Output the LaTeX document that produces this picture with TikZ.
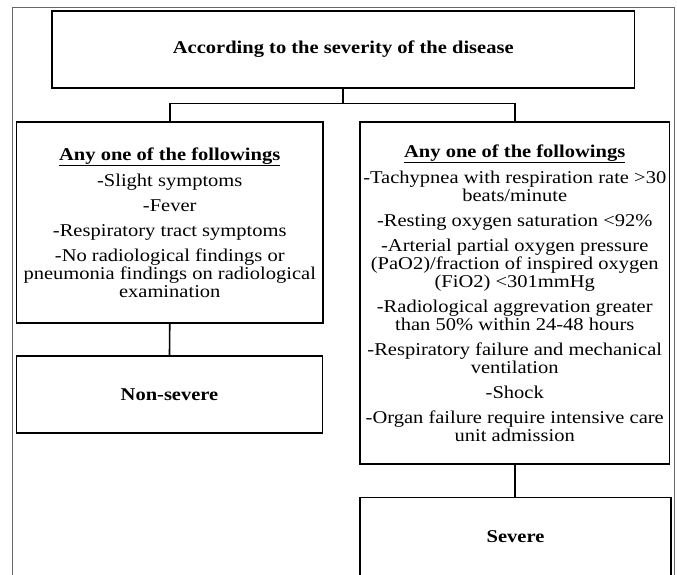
\documentclass[tikz,border=0pt]{standalone}
\usepackage{fontspec}
\setmainfont{Liberation Serif}[FakeStretch=1.14]
\begin{document}
\begin{tikzpicture}[x=1pt,y=-1pt,
  box/.style={draw=black,line width=1.6pt,rectangle,inner sep=0pt,align=center,
    font=\fontsize{18}{18}\selectfont},
  link/.style={draw=black,line width=1.6pt},
  frame/.style={draw=black!60,line width=0.9pt}]
\useasboundingbox (0,0) rectangle (677,574);
\clip (0,0) rectangle (677,574);
\draw[frame] (12.7,590) -- (12.7,7.3) -- (674,7.3) -- (674,590);

\node[box,minimum width=582.5pt,minimum height=77pt] (top) at (343.25,49.5)
  {\textbf{According to the severity of the disease}};

\node[box,minimum width=306.5pt,minimum height=201pt] (left) at (169.75,222.5)
  {\underline{\textbf{Any one of the followings}}\\[7pt]
   -Slight symptoms\\[7pt]
   -Fever\\[7pt]
   -Respiratory tract symptoms\\[7pt]
   -No radiological findings or\\
   pneumonia findings on radiological\\
   examination};

\node[box,minimum width=306pt,minimum height=77pt] (nonsev) at (169.5,394.5)
  {\textbf{Non-severe}};

\node[box,minimum width=309.5pt,minimum height=342pt] (right) at (514.75,293.2)
  {\underline{\textbf{Any one of the followings}}\\[7pt]
   -Tachypnea with respiration rate >30\\
   beats/minute\\[7pt]
   -Resting oxygen saturation <92\%\\[7pt]
   -Arterial partial oxygen pressure\\
   (PaO2)/fraction of inspired oxygen\\
   (FiO2) <301mmHg\\[7pt]
   -Radiological aggrevation greater\\
   than 50\% within 24-48 hours\\[7pt]
   -Respiratory failure and mechanical\\
   ventilation\\[7pt]
   -Shock\\[7pt]
   -Organ failure require intensive care\\
   unit admission};

\node[box,minimum width=311pt,minimum height=78pt] (sev) at (515.5,536.3)
  {\textbf{Severe}};

\coordinate (jt) at (343.25,103.5);
\draw[link] (top.south) -- (jt);
\draw[link] (left.north) |- (jt) -| (right.north);
\draw[link] (left.south) -- (nonsev.north);
\draw[link] (right.south) -- (right.south |- sev.north);
\end{tikzpicture}
\end{document}
